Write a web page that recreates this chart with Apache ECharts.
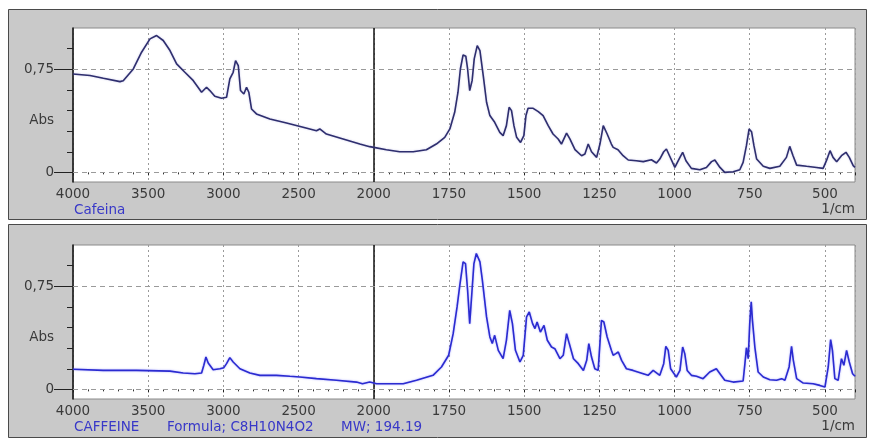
<!DOCTYPE html>
<html><head><meta charset="utf-8">
<script src="https://cdn.jsdelivr.net/npm/echarts@6/dist/echarts.min.js"></script>
<style>html,body{margin:0;padding:0;background:#fff}#c{width:870px;height:439px}</style>
</head><body><div id="c"></div>
<script>
// ---- data (wavenumber in 1/cm, absorbance) ----
const topWave = [4000,3887,3798,3688,3666,3599,3544,3488,3444,3400,3355,3311,3256,3200,3145,3112,3090,3057,3012,2979,2957,2935,2919,2901,2886,2864,2846,2831,2813,2780,2691,2580,2470,2381,2359,2315,2204,2093,2027,2000,1958,1914,1869,1825,1792,1764,1747,1731,1720,1712,1703,1694,1688,1681,1673,1666,1656,1647,1636,1625,1614,1598,1581,1570,1559,1550,1542,1534,1525,1512,1501,1494,1487,1470,1453,1437,1420,1404,1387,1376,1359,1348,1331,1309,1298,1287,1276,1259,1248,1237,1224,1210,1204,1188,1171,1154,1127,1104,1077,1060,1049,1036,1027,1016,999,982,973,962,944,916,894,877,866,849,833,805,783,772,761,752,744,736,727,705,683,650,628,617,606,594,561,528,506,495,483,473,461,445,430,419,406,400];
const topAbs = [0.716,0.704,0.684,0.660,0.667,0.752,0.874,0.971,0.995,0.959,0.886,0.789,0.728,0.667,0.583,0.619,0.595,0.553,0.539,0.546,0.680,0.728,0.813,0.777,0.595,0.570,0.619,0.583,0.461,0.425,0.388,0.359,0.328,0.303,0.316,0.279,0.243,0.206,0.187,0.182,0.165,0.150,0.150,0.165,0.206,0.255,0.316,0.437,0.583,0.752,0.854,0.845,0.752,0.595,0.667,0.825,0.922,0.886,0.704,0.510,0.413,0.364,0.291,0.267,0.340,0.473,0.449,0.340,0.255,0.218,0.267,0.413,0.466,0.466,0.442,0.413,0.340,0.279,0.243,0.206,0.286,0.243,0.165,0.121,0.133,0.206,0.150,0.109,0.206,0.340,0.279,0.206,0.182,0.165,0.121,0.090,0.085,0.078,0.092,0.068,0.097,0.150,0.170,0.117,0.036,0.109,0.146,0.085,0.029,0.019,0.036,0.078,0.090,0.036,0.000,0.005,0.019,0.073,0.194,0.316,0.296,0.194,0.097,0.044,0.029,0.044,0.109,0.189,0.121,0.053,0.044,0.036,0.029,0.085,0.158,0.109,0.078,0.121,0.146,0.109,0.049,0.036];

const botWave = [4000,3798,3577,3355,3267,3189,3145,3130,3116,3101,3068,3023,2997,2979,2957,2935,2890,2824,2757,2647,2558,2492,2381,2248,2115,2075,2027,2000,1991,1947,1902,1858,1803,1775,1751,1736,1723,1714,1703,1695,1688,1681,1674,1667,1659,1647,1639,1625,1614,1606,1598,1586,1570,1559,1548,1539,1529,1514,1503,1492,1483,1472,1464,1457,1446,1434,1423,1409,1398,1381,1370,1359,1350,1336,1320,1303,1292,1285,1276,1265,1254,1243,1235,1224,1210,1204,1195,1187,1176,1160,1138,1104,1088,1071,1049,1036,1029,1021,1013,994,982,973,966,958,944,927,905,883,861,849,833,805,772,766,761,755,750,745,741,733,722,705,683,661,644,633,619,611,605,594,572,539,517,500,489,481,475,467,456,445,437,428,419,408,400];
const botAbs = [0.146,0.138,0.138,0.133,0.119,0.114,0.119,0.175,0.235,0.192,0.143,0.150,0.158,0.187,0.231,0.199,0.150,0.119,0.102,0.102,0.095,0.090,0.078,0.066,0.053,0.041,0.053,0.046,0.041,0.041,0.041,0.066,0.102,0.163,0.248,0.405,0.600,0.757,0.927,0.915,0.721,0.478,0.697,0.915,0.988,0.927,0.794,0.527,0.381,0.333,0.393,0.284,0.223,0.357,0.575,0.478,0.284,0.199,0.248,0.527,0.563,0.478,0.442,0.490,0.417,0.466,0.357,0.308,0.296,0.223,0.248,0.405,0.333,0.223,0.187,0.138,0.211,0.333,0.235,0.150,0.138,0.502,0.490,0.381,0.284,0.248,0.260,0.272,0.211,0.150,0.138,0.114,0.102,0.138,0.102,0.187,0.313,0.284,0.150,0.090,0.138,0.308,0.260,0.138,0.102,0.095,0.078,0.126,0.150,0.114,0.066,0.053,0.061,0.187,0.303,0.223,0.478,0.636,0.502,0.308,0.126,0.090,0.070,0.066,0.078,0.066,0.163,0.313,0.211,0.078,0.046,0.041,0.029,0.017,0.163,0.362,0.284,0.078,0.066,0.223,0.175,0.284,0.199,0.114,0.095];

const yTicks = [0,0.15,0.3,0.45,0.6,0.75,0.9];
const yLabelValues = [0,0.375,0.75];
const yLabelTexts = ['0','Abs','0,75'];
const panelTitles = [['Cafeina'],['CAFFEINE','Formula; C8H10N4O2','MW; 194.19']];
const unitText = '1/cm';

// piecewise axis: 4000-2000 at half the scale of 2000-400
function toAxis(w){ return w >= 2000 ? (4000 - w) / 2 : 1000 + (2000 - w); }
function fromAxis(v){ return v <= 1000 ? 4000 - 2 * v : 3000 - v; }

const FONT = 'DejaVu Sans';
const gridTops = [28, 245];
const GH = 154, GL = 73, GW = 782;

const grids = [], xAxes = [], yAxes = [], series = [];
const datasets = [[topWave, topAbs, '#2e2e6e'], [botWave, botAbs, '#2b2bd0']];
for (let i = 0; i < 2; i++) {
  grids.push({left: GL, top: gridTops[i], width: GW, height: GH, show: true, containLabel: false,
    outerBoundsMode: 'none',
    backgroundColor: '#fff', borderColor: '#8a8a8a', borderWidth: 1});
  xAxes.push({type: 'value', gridIndex: i, min: 0, max: 2600, interval: 250, position: 'bottom',
    axisLine: {show: false},
    axisTick: {show: true, length: 3, lineStyle: {color: '#222'}},
    minorTick: {show: true, splitNumber: 5, length: 2, lineStyle: {color: '#333'}},
    splitLine: {show: true, lineStyle: {color: '#9a9a9a', type: [2, 3], width: 1}},
    axisLabel: {margin: 5, fontSize: 13.5, fontFamily: FONT, color: '#3a3a3a',
      formatter: v => v > 2500 ? '' : String(fromAxis(v))}});
  yAxes.push({type: 'value', gridIndex: i, min: -0.07, max: 1.05, position: 'left',
    axisLine: {show: true, lineStyle: {color: '#111', width: 1.5}},
    axisTick: {show: true, customValues: yTicks, length: 6, lineStyle: {color: '#222'}},
    axisLabel: {show: false}, splitLine: {show: false}});
  yAxes.push({type: 'value', gridIndex: i, min: -0.07, max: 1.05, position: 'left', offset: 0,
    axisLine: {show: false},
    axisTick: {show: true, customValues: [0, 0.75], length: 19, lineStyle: {color: '#222'}},
    axisLabel: {show: true, customValues: yLabelValues, margin: 19, fontSize: 13.5, fontFamily: FONT, color: '#3a3a3a',
      formatter: v => yLabelTexts[yLabelValues.indexOf(v)]},
    splitLine: {show: false}});
  const [wv, ab, col] = datasets[i];
  series.push({type: 'line', xAxisIndex: i, yAxisIndex: 2 * i, showSymbol: false, symbol: 'none',
    data: wv.map((w, k) => [toAxis(w), ab[k]]),
    lineStyle: {color: col, width: 1.6, shadowColor: i ? 'rgba(110,110,255,0.6)' : 'rgba(120,120,200,0.4)', shadowBlur: 2},
    animation: false, z: 5,
    markLine: {silent: true, symbol: ['none', 'none'], label: {show: false}, animation: false,
      data: [
        {xAxis: toAxis(2000), lineStyle: {color: '#111', type: 'solid', width: 1.5}},
        {yAxis: 0, lineStyle: {color: '#9a9a9a', type: [5, 4], width: 1}},
        {yAxis: 0.75, lineStyle: {color: '#9a9a9a', type: [5, 4], width: 1}}
      ]}});
}

const graphic = [
  {type: 'rect', z: -100, shape: {x: 8.5, y: 9.5, width: 858, height: 210}, style: {fill: '#c9c9c9', stroke: '#4a4a4a', lineWidth: 1}},
  {type: 'rect', z: -100, shape: {x: 8.5, y: 224.5, width: 858, height: 213}, style: {fill: '#c9c9c9', stroke: '#4a4a4a', lineWidth: 1}},
  {type: 'text', z: 100, x: 74, y: 210, style: {text: panelTitles[0][0], fill: '#3838c8', font: '13.5px "DejaVu Sans"', textVerticalAlign: 'middle'}},
  {type: 'text', z: 100, x: 855, y: 209, style: {text: unitText, fill: '#3a3a3a', font: '13.5px "DejaVu Sans"', textAlign: 'right', textVerticalAlign: 'middle'}},
  {type: 'text', z: 100, x: 74, y: 427, style: {text: panelTitles[1][0], fill: '#3838c8', font: '13.5px "DejaVu Sans"', textVerticalAlign: 'middle'}},
  {type: 'text', z: 100, x: 167, y: 427, style: {text: panelTitles[1][1], fill: '#3838c8', font: '13.5px "DejaVu Sans"', textVerticalAlign: 'middle'}},
  {type: 'text', z: 100, x: 341, y: 427, style: {text: panelTitles[1][2], fill: '#3838c8', font: '13.5px "DejaVu Sans"', textVerticalAlign: 'middle'}},
  {type: 'text', z: 100, x: 855, y: 426, style: {text: unitText, fill: '#3a3a3a', font: '13.5px "DejaVu Sans"', textAlign: 'right', textVerticalAlign: 'middle'}}
];

const chart = echarts.init(document.getElementById('c'), null, {renderer: 'canvas'});
chart.setOption({animation: false, backgroundColor: '#fff', graphic: graphic,
  grid: grids, xAxis: xAxes, yAxis: yAxes, series: series});
</script></body></html>
